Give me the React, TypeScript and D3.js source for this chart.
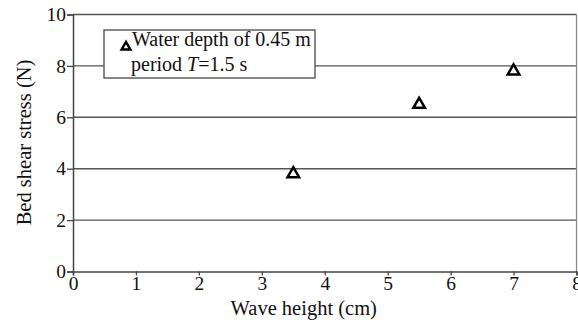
import React, { useEffect, useRef } from 'react';
import * as d3 from 'd3';

// wave height (cm) vs bed shear stress (N)
const waveHeight = [3.5, 5.5, 7];
const shearStress = [3.8, 6.5, 7.8];
const xTicks = [0, 1, 2, 3, 4, 5, 6, 7, 8];
const yTicks = [0, 2, 4, 6, 8, 10];
const legendLines = ['Water depth of 0.45 m', 'period '];

const W = 578, H = 323;

const App = () => {
  const svgRef = useRef<SVGSVGElement>(null);

  useEffect(() => {
    d3.select(svgRef.current).selectAll('*').remove();
    const margin = { top: 14.5, right: 1.5, bottom: 51.5, left: 73 };
    const width = W - margin.left - margin.right;
    const height = H - margin.top - margin.bottom;
    const font = 'Liberation Serif';

    const svg = d3.select(svgRef.current)
      .append('g')
      .attr('transform', `translate(${margin.left},${margin.top})`);

    const x = d3.scaleLinear().domain([0, 8]).range([0, width]);
    const y = d3.scaleLinear().domain([0, 10]).range([height, 0]);

    // horizontal grid lines
    svg.append('g')
      .selectAll('line')
      .data(yTicks.filter(d => d > 0))
      .enter().append('line')
      .attr('x1', 0).attr('x2', width)
      .attr('y1', d => y(d)).attr('y2', d => y(d))
      .attr('stroke', '#555').attr('stroke-width', 1.4);

    // right border
    svg.append('line')
      .attr('x1', width).attr('x2', width)
      .attr('y1', 0).attr('y2', height)
      .attr('stroke', '#888').attr('stroke-width', 1.2);

    // y axis
    const yAxis = svg.append('g')
      .call(d3.axisLeft(y).tickValues(yTicks).tickSize(6).tickPadding(1).tickFormat(d3.format('d')));
    yAxis.attr('font-family', null).attr('font-size', null);
    yAxis.select('.domain').attr('stroke', '#444').attr('stroke-width', 1.5);
    yAxis.selectAll('.tick line').attr('stroke', '#444').attr('stroke-width', 1.3);
    yAxis.selectAll('.tick text')
      .style('font-family', font).style('font-size', '19.5px').attr('fill', '#111');

    // x axis
    const xAxis = svg.append('g')
      .attr('transform', `translate(0,${height})`)
      .call(d3.axisBottom(x).tickValues(xTicks).tickSize(4).tickPadding(1).tickFormat(d3.format('d')));
    xAxis.attr('font-family', null).attr('font-size', null);
    xAxis.select('.domain').attr('stroke', '#444').attr('stroke-width', 1.5);
    xAxis.selectAll('.tick line').attr('stroke', '#444').attr('stroke-width', 1.3);
    xAxis.selectAll('.tick text')
      .style('font-family', font).style('font-size', '19.5px').attr('fill', '#111');

    // axis titles
    svg.append('text')
      .attr('x', width / 2 - 21)
      .attr('y', height + 43)
      .attr('text-anchor', 'middle')
      .style('font-family', font).style('font-size', '20.5px').attr('fill', '#111')
      .text('Wave height (cm)');

    svg.append('text')
      .attr('transform', 'rotate(-90)')
      .attr('x', -height / 2 + 0.5)
      .attr('y', -42)
      .attr('text-anchor', 'middle')
      .style('font-family', font).style('font-size', '20.5px').attr('fill', '#111')
      .text('Bed shear stress (N)');

    const tri = d3.symbol().type(d3.symbolTriangle);

    // data points
    svg.append('g')
      .selectAll('path')
      .data(waveHeight.map((d, i) => ({ x: d, y: shearStress[i] })))
      .enter().append('path')
      .attr('transform', d => `translate(${x(d.x)},${y(d.y)})`)
      .attr('d', tri.size(58)())
      .attr('fill', 'white')
      .attr('stroke', '#000')
      .attr('stroke-width', 2.5);

    // legend
    const legend = svg.append('g').attr('transform', `translate(${104 - margin.left},${30 - margin.top})`);
    legend.append('rect')
      .attr('width', 211).attr('height', 48)
      .attr('fill', 'white')
      .attr('stroke', '#555').attr('stroke-width', 1.4);
    legend.append('path')
      .attr('transform', 'translate(22,17)')
      .attr('d', tri.size(34)())
      .attr('fill', 'white')
      .attr('stroke', '#000')
      .attr('stroke-width', 2.4);
    legend.append('text')
      .attr('x', 28).attr('y', 16)
      .style('font-family', font).style('font-size', '20px').attr('fill', '#111')
      .text(legendLines[0]);
    const l2 = legend.append('text')
      .attr('x', 27).attr('y', 41)
      .style('font-family', font).style('font-size', '20px').attr('fill', '#111');
    l2.append('tspan').text(legendLines[1]);
    l2.append('tspan').attr('font-style', 'italic').text('T');
    l2.append('tspan').text('=1.5 s');
  }, []);

  return (
    <svg ref={svgRef} width={W} height={H}
      style={{ position: 'absolute', left: 0, top: 0, background: 'white' }} />
  );
};

export default App;
